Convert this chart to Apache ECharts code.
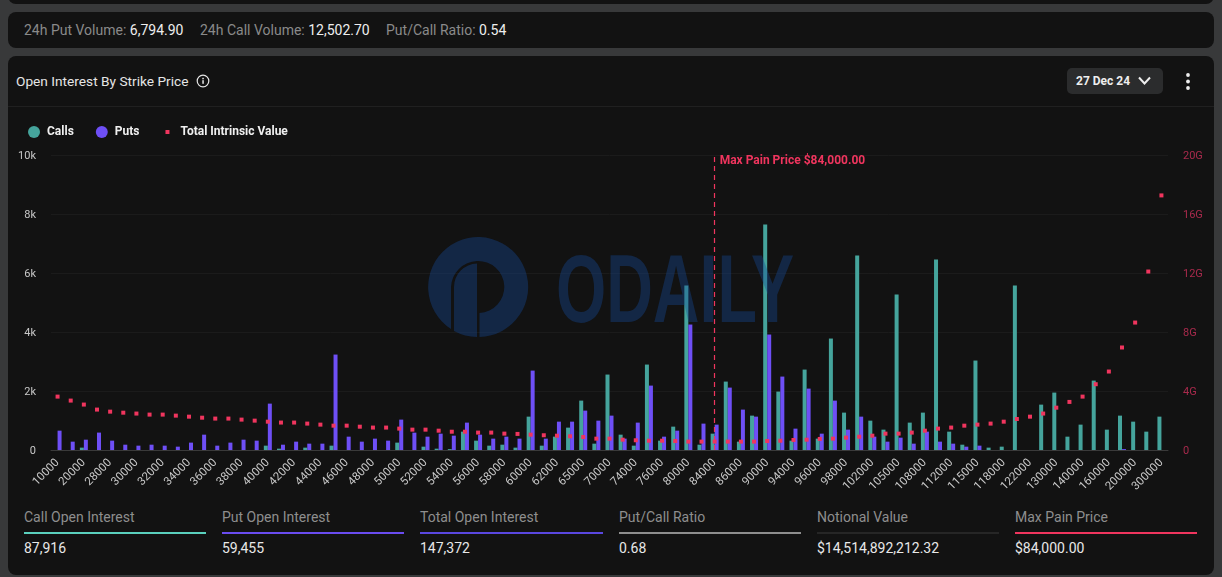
<!DOCTYPE html>
<html><head><meta charset="utf-8">
<script src="https://cdn.jsdelivr.net/npm/echarts@6/dist/echarts.min.js"></script>
<style>
html,body{margin:0;padding:0;width:1222px;height:577px;overflow:hidden;background:#38393a;font-family:Roboto,sans-serif}
.card{position:absolute;background:#121212;border-radius:8px}
.t{position:absolute;white-space:nowrap;line-height:1}
#chart{position:absolute;left:0;top:0;width:1222px;height:577px}
#wm{position:absolute;left:0;top:0;pointer-events:none;opacity:.38}
.bar{position:absolute;height:2px;top:532px;width:182px}
.lab{color:#8e8e8e;font-size:14px;top:510px}
.val{color:#e8e8e8;font-size:14px;top:541px}
</style></head><body>
<div class="card" style="left:8px;top:-18px;width:1206px;height:22px"></div>
<div class="card" style="left:8px;top:12px;width:1206px;height:36px"></div>
<div class="card" style="left:8px;top:56px;width:1206px;height:519px"></div>
<div style="position:absolute;left:8px;top:106px;width:1206px;height:1px;background:#202020"></div>
<div class="t" style="left:24px;top:23px;font-size:14px;color:#8a8a8a">24h Put Volume: <span style="color:#eee">6,794.90</span></div>
<div class="t" style="left:200px;top:23px;font-size:14px;color:#8a8a8a">24h Call Volume: <span style="color:#eee">12,502.70</span></div>
<div class="t" style="left:386px;top:23px;font-size:14px;color:#8a8a8a">Put/Call Ratio: <span style="color:#eee">0.54</span></div>
<div class="t" style="left:16px;top:75px;font-size:13.7px;color:#e6e6e6">Open Interest By Strike Price</div>
<svg style="position:absolute;left:195px;top:73px" width="16" height="16" viewBox="0 0 16 16"><circle cx="8" cy="8" r="5.8" fill="none" stroke="#e6e6e6" stroke-width="1.2"/><rect x="7.3" y="7.2" width="1.5" height="3.6" fill="#e6e6e6"/><rect x="7.3" y="4.8" width="1.5" height="1.5" fill="#e6e6e6"/></svg>
<div style="position:absolute;left:1067px;top:68px;width:96px;height:26px;border-radius:5px;background:#2b2c2d"></div>
<div class="t" style="left:1076px;top:75px;font-size:12px;font-weight:700;color:#eee">27 Dec 24</div>
<svg style="position:absolute;left:1137px;top:75px" width="16" height="12" viewBox="0 0 16 12"><path d="M2 2.5 L7.5 8.5 L13 2.5" fill="none" stroke="#eee" stroke-width="2"/></svg>
<svg style="position:absolute;left:1184px;top:72px" width="8" height="20" viewBox="0 0 8 20"><circle cx="4" cy="3" r="1.9" fill="#eee"/><circle cx="4" cy="9.5" r="1.9" fill="#eee"/><circle cx="4" cy="16" r="1.9" fill="#eee"/></svg>

<div class="t lab" style="left:24px">Call Open Interest</div><div class="bar" style="left:24px;background:#5ad0bd"></div><div class="t val" style="left:24px">87,916</div>
<div class="t lab" style="left:222px">Put Open Interest</div><div class="bar" style="left:222px;background:#6a4cf0"></div><div class="t val" style="left:222px">59,455</div>
<div class="t lab" style="left:420px">Total Open Interest</div><div class="bar" style="left:420px;width:183px;background:#5a47e0"></div><div class="t val" style="left:420px">147,372</div>
<div class="t lab" style="left:619px">Put/Call Ratio</div><div class="bar" style="left:619px;background:#8e8e8e"></div><div class="t val" style="left:619px">0.68</div>
<div class="t lab" style="left:817px">Notional Value</div><div class="bar" style="left:817px;background:#262626"></div><div class="t val" style="left:817px">$14,514,892,212.32</div>
<div class="t lab" style="left:1015px">Max Pain Price</div><div class="bar" style="left:1015px;background:#f0355e"></div><div class="t val" style="left:1015px">$84,000.00</div>

<div id="chart"></div>
<svg id="wm" width="1222" height="577" viewBox="0 0 1222 577">
<g fill="#154a9a" transform="translate(478 287)">
<path d="M-27 42 A50 50 0 1 1 1.5 50 L1.5 26 A26 26 0 1 0 -1 -26 A27 27 0 0 0 -27 0 Z"/>
<path d="M-24 44 L-24 0 A23.5 23.5 0 0 1 -1 -23.5 L-1 50 A50 50 0 0 1 -24 44 Z"/>
</g>
<text x="556" y="322" fill="#154a9a" font-family="'Liberation Sans Narrow','Liberation Sans',sans-serif" font-weight="700" font-size="97" textLength="238" lengthAdjust="spacingAndGlyphs">ODAILY</text>
</svg>

<script>
const strikes=[10000,15000,20000,25000,28000,29000,30000,31000,32000,33000,34000,35000,36000,37000,38000,39000,40000,41000,42000,43000,44000,45000,46000,47000,48000,49000,50000,51000,52000,53000,54000,55000,56000,57000,58000,59000,60000,61000,62000,64000,65000,68000,70000,72000,74000,75000,76000,78000,80000,82000,84000,85000,86000,88000,90000,92000,94000,95000,96000,97000,98000,100000,102000,104000,105000,106000,108000,110000,112000,114000,115000,116000,118000,120000,122000,125000,130000,135000,140000,150000,160000,180000,200000,250000,300000];
const calls=[0,0,80,0,0,0,0,0,0,0,0,0,0,0,0,0,147,45,0,80,0,147,0,0,0,0,250,0,113,45,30,622,317,147,180,80,1131,147,452,758,1674,215,2557,520,147,2896,317,792,5577,180,554,2319,283,1165,7647,1980,317,2726,385,3778,1267,6595,995,690,5271,928,1267,6459,622,180,3032,80,113,5577,0,1538,1946,452,860,2353,690,1165,961,622,1131];
const puts=[656,283,350,590,317,180,147,180,147,113,250,520,147,250,350,317,1572,180,283,215,215,3235,452,283,385,317,1030,588,452,554,486,928,520,385,452,385,2692,385,961,961,1335,995,1165,385,928,2183,452,656,4253,894,860,2115,1369,1131,3914,2489,724,2081,554,1674,690,1131,452,283,418,215,622,283,215,113,147,0,0,0,0,0,0,0,0,0,0,30,0,0,0];
const intrinsicG=[3.62,3.35,3.08,2.74,2.60,2.53,2.47,2.40,2.40,2.33,2.26,2.19,2.13,2.13,2.06,1.99,1.92,1.86,1.86,1.79,1.72,1.65,1.65,1.58,1.52,1.52,1.45,1.38,1.38,1.31,1.24,1.24,1.18,1.18,1.11,1.09,1.04,1.00,0.97,0.93,0.88,0.77,0.77,0.70,0.66,0.63,0.63,0.61,0.57,0.57,0.57,0.57,0.57,0.57,0.61,0.63,0.68,0.70,0.75,0.77,0.84,0.90,0.97,1.11,1.11,1.18,1.31,1.45,1.52,1.65,1.72,1.79,1.92,2.10,2.26,2.47,2.87,3.26,3.62,4.46,5.32,6.95,8.64,12.10,17.26];
const maxPainStrike='84000';
const maxPainLabel='Max Pain Price $84,000.00';
const CALL='#45a49c',PUT='#6e4ff6',RED='#f0355e';
const chart=echarts.init(document.getElementById('chart'),null,{renderer:'canvas'});
chart.setOption({
 backgroundColor:'transparent',animation:false,
 textStyle:{fontFamily:'Roboto'},
 legend:{left:23,top:121,itemWidth:12,itemHeight:12,itemGap:22,
  textStyle:{color:'#f0f0f0',fontSize:12,fontWeight:700,fontFamily:'Roboto',padding:[0,0,0,2]},
  data:[{name:'Calls',icon:'circle'},{name:'Puts',icon:'circle'},{name:'Total Intrinsic Value',icon:'path://M0,0L0,0M4,4H8V8H4ZM12,12L12,12',itemStyle:{color:RED,opacity:1}}]},
 grid:{left:51,right:54,top:155,bottom:127,containLabel:false},
 xAxis:{type:'category',data:strikes.map(String),
  axisTick:{show:false},axisLine:{lineStyle:{color:'#3a3a3a'}},
  axisLabel:{interval:1,rotate:45,color:'#c8c8c8',fontSize:11.5,margin:11,fontFamily:'Roboto'}},
 yAxis:[{type:'value',min:0,max:10000,interval:2000,position:'left',
   axisLabel:{color:'#c8c8c8',fontSize:11,margin:15,verticalAlign:'top',lineHeight:3,formatter:v=>v?v/1000+'k':'0'},
   splitLine:{lineStyle:{color:'#1b1b1b'}},axisLine:{show:false},axisTick:{show:false}},
  {type:'value',min:0,max:20,interval:4,position:'right',
   axisLabel:{color:'#a82a4c',fontSize:11,margin:15,verticalAlign:'top',lineHeight:3,formatter:v=>v?v+'G':'0'},
   splitLine:{show:false},axisLine:{show:false},axisTick:{show:false}}],
 series:[
  {name:'Calls',type:'bar',data:calls,barWidth:4,barGap:0,itemStyle:{color:CALL}},
  {name:'Puts',type:'bar',data:puts,barWidth:4,barGap:0,itemStyle:{color:PUT}},
  {name:'Total Intrinsic Value',type:'scatter',yAxisIndex:1,data:intrinsicG,symbol:'rect',symbolSize:4,itemStyle:{color:RED,opacity:1},z:5,
   markLine:{silent:true,symbol:'none',animation:false,
    lineStyle:{color:RED,type:[5,4],width:1.2,opacity:1},
    label:{show:true,formatter:maxPainLabel,position:'insideEndTop',rotate:0,color:RED,fontSize:12,fontWeight:700,fontFamily:'Roboto',align:'left',verticalAlign:'top',padding:[0,0,0,5],offset:[5,5]},
    data:[{xAxis:maxPainStrike}]}}
 ]
});
</script>
</body></html>
